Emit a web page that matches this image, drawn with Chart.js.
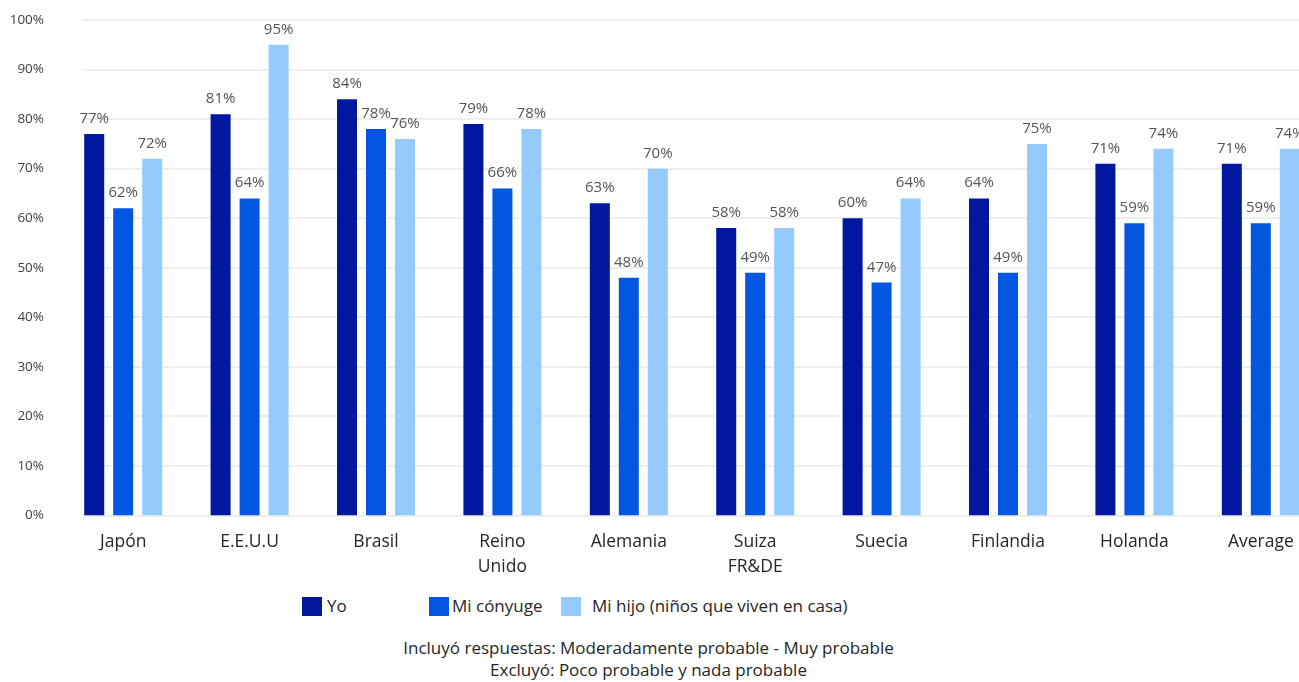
<!DOCTYPE html>
<html>
<head>
<meta charset="utf-8">
<script src="https://cdn.jsdelivr.net/npm/chart.js@4.4.1/dist/chart.umd.min.js"></script>
<style>
  html, body { margin: 0; padding: 0; background: #fff; }
  body { width: 1299px; height: 682px; overflow: hidden; position: relative; font-family: 'Open Sans', sans-serif; }
  #wrap { position: absolute; left: 0; top: 0; width: 1324px; height: 590px; }
  .lg-box { position: absolute; width: 20px; height: 19px; top: 597px; }
  .lg-txt { position: absolute; top: 594px; font-size: 17px; line-height: 24px; color: #262626; white-space: nowrap; }
  #foot { position: absolute; left: 0; width: 1297px; top: 637px; text-align: center; font-size: 17px; line-height: 22px; color: #262626; }
</style>
</head>
<body>
<div id="wrap"><canvas id="c"></canvas></div>
<div id="legend"></div>
<div id="foot"></div>
<script>
const categories = ['Japón', 'E.E.U.U', 'Brasil', ['Reino', 'Unido'], 'Alemania', ['Suiza', 'FR&DE'], 'Suecia', 'Finlandia', 'Holanda', 'Average'];
const seriesNames = ['Yo', 'Mi cónyuge', 'Mi hijo (niños que viven en casa)'];
const yo = [77, 81, 84, 79, 63, 58, 60, 64, 71, 71];
const conyuge = [62, 64, 78, 66, 48, 49, 47, 49, 59, 59];
const hijo = [72, 95, 76, 78, 70, 58, 64, 75, 74, 74];
const yTicks = [0, 10, 20, 30, 40, 50, 60, 70, 80, 90, 100];
const footnotes = ['Incluyó respuestas: Moderadamente probable - Muy probable', 'Excluyó: Poco probable y nada probable'];

const colors = ['#0117A0', '#0356DF', '#94CAFD'];
const FONT = "'Open Sans', sans-serif";

const gridPlugin = {
  id: 'customGrid',
  beforeDatasetsDraw(chart) {
    const { ctx, chartArea, scales } = chart;
    ctx.save();
    ctx.strokeStyle = '#EEEEEE';
    ctx.lineWidth = 2;
    yTicks.forEach(v => {
      const y = Math.round(scales.y.getPixelForValue(v));
      ctx.beginPath();
      ctx.moveTo(83, y);
      ctx.lineTo(chartArea.right, y);
      ctx.stroke();
    });
    ctx.restore();
  }
};

const labelPlugin = {
  id: 'barLabels',
  afterDatasetsDraw(chart) {
    const { ctx } = chart;
    ctx.save();
    ctx.font = '15px ' + FONT;
    ctx.fillStyle = '#555555';
    ctx.textAlign = 'center';
    ctx.textBaseline = 'alphabetic';
    chart.data.datasets.forEach((ds, di) => {
      const meta = chart.getDatasetMeta(di);
      meta.data.forEach((bar, i) => {
        ctx.fillText(ds.data[i] + '%', bar.x, bar.y - 11);
      });
    });
    ctx.restore();
  }
};

const chart = new Chart(document.getElementById('c'), {
  type: 'bar',
  data: {
    labels: categories,
    datasets: [
      { label: seriesNames[0], data: yo, backgroundColor: colors[0] },
      { label: seriesNames[1], data: conyuge, backgroundColor: colors[1] },
      { label: seriesNames[2], data: hijo, backgroundColor: colors[2] }
    ]
  },
  options: {
    responsive: true,
    maintainAspectRatio: false,
    animation: false,
    devicePixelRatio: 1,
    layout: { padding: { left: 0, right: 0, top: 0, bottom: 0 } },
    datasets: { bar: { categoryPercentage: 0.688, barPercentage: 0.69 } },
    plugins: { legend: { display: false }, title: { display: false }, tooltip: { enabled: false } },
    scales: {
      x: {
        grid: { display: false, drawTicks: false },
        border: { display: false },
        ticks: { color: '#262626', font: { family: FONT, size: 17.5, lineHeight: 1.43 }, padding: 14, maxRotation: 0, autoSkip: false },
        afterFit(scale) { scale.height = 590 - 515.5; }
      },
      y: {
        min: 0, max: 100,
        grid: { display: false, drawTicks: false },
        border: { display: false },
        ticks: { stepSize: 10, color: '#404040', font: { family: FONT, size: 13.5 }, padding: 16, callback: v => v + '%' },
        afterFit(scale) { scale.width = 60; scale.paddingTop = 20; scale.paddingBottom = 0; }
      }
    }
  },
  plugins: [gridPlugin, labelPlugin]
});

// legend (HTML)
const legendPos = [[302, 327], [429, 452], [561, 592]];
const lg = document.getElementById('legend');
seriesNames.forEach((name, i) => {
  const b = document.createElement('div');
  b.className = 'lg-box';
  b.style.left = legendPos[i][0] + 'px';
  b.style.background = colors[i];
  lg.appendChild(b);
  const t = document.createElement('div');
  t.className = 'lg-txt';
  t.style.left = legendPos[i][1] + 'px';
  t.textContent = name;
  lg.appendChild(t);
});
document.getElementById('foot').innerHTML = footnotes.map(s => '<div>' + s + '</div>').join('');
</script>
</body>
</html>
